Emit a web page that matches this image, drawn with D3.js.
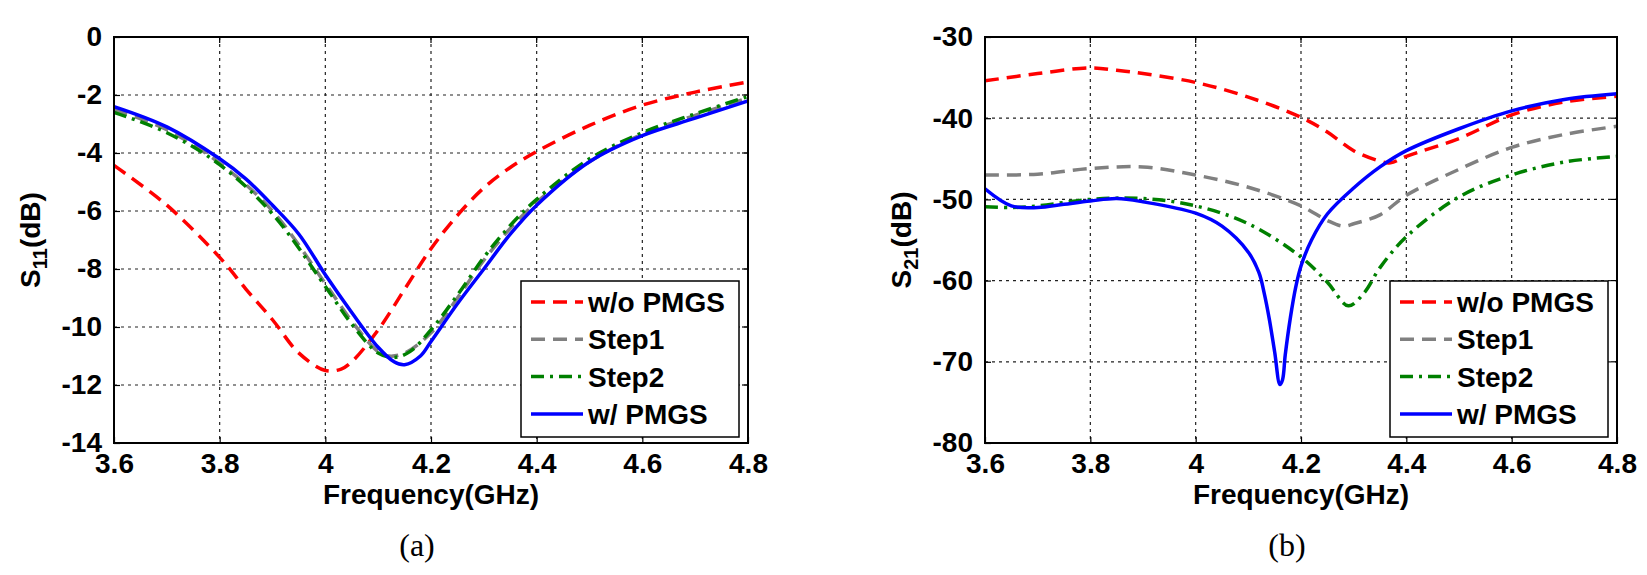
<!DOCTYPE html>
<html>
<head>
<meta charset="utf-8">
<script src="https://cdn.jsdelivr.net/npm/d3@7"></script>
<style>
  body { margin: 0; background: #fff; }
  svg text { font-family: "Liberation Sans", Arial, sans-serif; font-weight: bold; fill: #000; }
</style>
</head>
<body>
<script>
// ---- data ----
var seriesNames = ["w/o PMGS", "Step1", "Step2", "w/ PMGS"];
var freqTicks = [3.6, 3.8, 4, 4.2, 4.4, 4.6, 4.8];
var s11Ticks = [0, -2, -4, -6, -8, -10, -12, -14];
var s21Ticks = [-30, -40, -50, -60, -70, -80];

// (a) S11
var s11RedF  = [3.6, 3.7, 3.8, 3.85, 3.9, 3.95, 4.0, 4.03, 4.05, 4.1, 4.15, 4.2, 4.25, 4.3, 4.35, 4.4, 4.5, 4.6, 4.7, 4.8];
var s11RedDb = [-4.43, -5.8, -7.6, -8.7, -9.75, -10.9, -11.5, -11.45, -11.2, -10.1, -8.7, -7.3, -6.15, -5.2, -4.5, -3.95, -3.05, -2.35, -1.9, -1.55];
var s11GrayF  = [3.6, 3.7, 3.8, 3.9, 4.0, 4.05, 4.1, 4.12, 4.15, 4.2, 4.25, 4.3, 4.35, 4.4, 4.5, 4.6, 4.7, 4.8];
var s11GrayDb = [-2.5, -3.2, -4.35, -6.0, -8.5, -9.8, -10.85, -11.0, -10.9, -10.2, -9.0, -7.7, -6.6, -5.7, -4.3, -3.35, -2.7, -2.1];
var s11GreenF  = [3.6, 3.7, 3.8, 3.9, 4.0, 4.05, 4.1, 4.13, 4.16, 4.2, 4.25, 4.3, 4.35, 4.4, 4.5, 4.6, 4.7, 4.8];
var s11GreenDb = [-2.6, -3.3, -4.4, -6.1, -8.6, -9.9, -10.9, -11.05, -10.85, -10.1, -8.9, -7.6, -6.5, -5.6, -4.2, -3.3, -2.65, -2.05];
var s11BlueF  = [3.6, 3.7, 3.8, 3.85, 3.9, 3.95, 4.0, 4.05, 4.1, 4.13, 4.15, 4.18, 4.2, 4.25, 4.3, 4.35, 4.4, 4.5, 4.6, 4.7, 4.8];
var s11BlueDb = [-2.4, -3.1, -4.2, -4.9, -5.8, -6.8, -8.2, -9.5, -10.7, -11.2, -11.3, -11.0, -10.5, -9.2, -8.0, -6.8, -5.8, -4.3, -3.4, -2.8, -2.2];

// (b) S21
var s21RedF  = [3.6, 3.7, 3.8, 3.85, 3.9, 4.0, 4.1, 4.2, 4.25, 4.3, 4.35, 4.37, 4.4, 4.5, 4.6, 4.7, 4.8];
var s21RedDb = [-35.4, -34.5, -33.8, -34.1, -34.5, -35.6, -37.4, -39.9, -41.7, -44.0, -45.3, -45.5, -44.7, -42.5, -39.6, -38.0, -37.3];
var s21GrayF  = [3.6, 3.7, 3.8, 3.9, 4.0, 4.1, 4.2, 4.25, 4.28, 4.3, 4.35, 4.4, 4.5, 4.6, 4.7, 4.8];
var s21GrayDb = [-47.0, -46.9, -46.2, -46.0, -47.0, -48.5, -50.8, -52.6, -53.3, -53.0, -51.9, -49.5, -46.3, -43.6, -42.0, -41.0];
var s21GreenF  = [3.6, 3.65, 3.7, 3.8, 3.9, 4.0, 4.1, 4.2, 4.25, 4.29, 4.32, 4.35, 4.4, 4.5, 4.6, 4.7, 4.8];
var s21GreenDb = [-50.9, -51.0, -50.8, -50.0, -49.9, -50.8, -53.0, -57.1, -60.2, -63.1, -61.5, -58.4, -54.6, -49.7, -47.0, -45.4, -44.7];
var s21BlueF  = [3.6, 3.65, 3.7, 3.75, 3.8, 3.85, 3.9, 4.0, 4.05, 4.1, 4.12, 4.13, 4.14, 4.15, 4.16, 4.165, 4.17, 4.18, 4.19, 4.2, 4.22, 4.25, 4.3, 4.35, 4.4, 4.5, 4.6, 4.7, 4.8];
var s21BlueDb = [-48.7, -50.8, -51.0, -50.6, -50.2, -49.9, -50.3, -51.7, -53.3, -56.5, -59.0, -61.5, -64.8, -68.8, -72.8, -72.2, -69.2, -64.5, -60.8, -58.2, -55.0, -51.8, -48.6, -46.0, -44.0, -41.3, -39.1, -37.7, -37.0];

// ---- styles ----
var seriesColors = ["#ff0000", "#808080", "#008000", "#0000ff"];
var seriesDash = ["14,8", "14,8", "13,6,3,6", null];

var W = 1647, H = 575;
var svg = d3.select("body").append("svg")
    .attr("width", W)
    .attr("height", H);

function zip(f, v){
    return f.map(function(d, i){ return [d, v[i]]; });
}

function drawPanel(p){
    var x = d3.scaleLinear().domain([3.6, 4.8]).range([p.left, p.right]);
    var y = d3.scaleLinear().domain(p.yDomain).range([p.top, p.bottom]);

    var g = svg.append("g");

    // clip
    g.append("clipPath").attr("id", p.id + "clip")
        .append("rect")
        .attr("x", p.left).attr("y", p.top)
        .attr("width", p.right - p.left).attr("height", p.bottom - p.top);

    // grid
    g.selectAll(".vgrid").data(freqTicks.slice(1, -1)).enter().append("line")
        .attr("x1", function(d){ return x(d); })
        .attr("x2", function(d){ return x(d); })
        .attr("y1", p.top).attr("y2", p.bottom)
        .attr("stroke", "#222").attr("stroke-width", 1.2)
        .attr("stroke-dasharray", "3,4");
    g.selectAll(".hgrid").data(p.yTicks.slice(1, -1)).enter().append("line")
        .attr("y1", function(d){ return y(d); })
        .attr("y2", function(d){ return y(d); })
        .attr("x1", p.left).attr("x2", p.right)
        .attr("stroke", "#222").attr("stroke-width", 1.2)
        .attr("stroke-dasharray", "3,4");

    // curves
    var line = d3.line()
        .x(function(d){ return x(d[0]); })
        .y(function(d){ return y(d[1]); })
        .curve(d3.curveCatmullRom.alpha(0.5));

    p.series.forEach(function(s, i){
        g.append("path")
            .datum(s)
            .attr("clip-path", "url(#" + p.id + "clip)")
            .attr("d", line)
            .attr("fill", "none")
            .attr("stroke", seriesColors[i])
            .attr("stroke-width", 3.5)
            .attr("stroke-dasharray", seriesDash[i]);
    });

    // axes (plain hyphen minus like the original)
    var fmt = function(d){ return String(d); };
    var xAxis = d3.axisBottom(x).tickValues(freqTicks).tickSize(-6).tickPadding(12).tickFormat(fmt);
    var yAxis = d3.axisLeft(y).tickValues(p.yTicks).tickSize(-6).tickPadding(12).tickFormat(fmt);

    var gx = g.append("g").attr("transform", "translate(0," + p.bottom + ")").call(xAxis);
    var gy = g.append("g").attr("transform", "translate(" + p.left + ",0)").call(yAxis);
    [gx, gy].forEach(function(a){
        a.select(".domain").remove();
        a.selectAll("line").attr("stroke", "#000").attr("stroke-width", 1.2);
        a.selectAll("text").attr("font-size", 28).style("font-family", "'Liberation Sans', Arial, sans-serif")
            .style("font-weight", "bold").attr("fill", "#000");
    });
    gx.selectAll("text").attr("dy", "0.8em").attr("y", 8);

    // mirrored inside ticks top / right
    g.selectAll(".tt").data(freqTicks).enter().append("line")
        .attr("x1", function(d){ return x(d); }).attr("x2", function(d){ return x(d); })
        .attr("y1", p.top).attr("y2", p.top + 6)
        .attr("stroke", "#000").attr("stroke-width", 1.2);
    g.selectAll(".rt").data(p.yTicks).enter().append("line")
        .attr("y1", function(d){ return y(d); }).attr("y2", function(d){ return y(d); })
        .attr("x1", p.right).attr("x2", p.right - 6)
        .attr("stroke", "#000").attr("stroke-width", 1.2);

    // frame
    g.append("rect")
        .attr("x", p.left).attr("y", p.top)
        .attr("width", p.right - p.left).attr("height", p.bottom - p.top)
        .attr("fill", "none").attr("stroke", "#000").attr("stroke-width", 2);

    // axis labels
    g.append("text")
        .attr("x", (p.left + p.right) / 2).attr("y", 504)
        .attr("text-anchor", "middle").attr("font-size", 28)
        .text("Frequency(GHz)");

    var yl = g.append("text")
        .attr("transform", "translate(" + (p.left - 84) + "," + ((p.top + p.bottom) / 2) + ") rotate(-90)")
        .attr("text-anchor", "middle").attr("dy", "0.35em").attr("font-size", 28);
    yl.append("tspan").text("S");
    yl.append("tspan").attr("font-size", 20).attr("dy", 7).text(p.sub);
    yl.append("tspan").attr("dy", -7).text("(dB)");

    // caption
    g.append("text")
        .attr("x", p.capX).attr("y", 556)
        .attr("text-anchor", "middle")
        .attr("font-size", 32)
        .style("font-family", "'Liberation Serif', 'Times New Roman', serif")
        .style("font-weight", "normal")
        .text(p.caption);

    // legend
    var lx = p.right - 227, ly = p.bottom - 162, lw = 218, lh = 156;
    var leg = g.append("g").attr("transform", "translate(" + lx + "," + ly + ")");
    leg.append("rect").attr("width", lw).attr("height", lh)
        .attr("fill", "#fff").attr("stroke", "#000").attr("stroke-width", 1.5);
    seriesNames.forEach(function(n, i){
        var cy = 21 + i * 37.3;
        leg.append("line")
            .attr("x1", 10).attr("x2", 62).attr("y1", cy).attr("y2", cy)
            .attr("stroke", seriesColors[i]).attr("stroke-width", 3.5)
            .attr("stroke-dasharray", seriesDash[i]);
        leg.append("text")
            .attr("x", 67).attr("y", cy + 10)
            .attr("font-size", 28)
            .text(n);
    });
}

drawPanel({
    id: "a", left: 114, right: 748, top: 37, bottom: 443,
    yDomain: [0, -14], yTicks: s11Ticks, sub: "11", caption: "(a)", capX: 417,
    series: [zip(s11RedF, s11RedDb), zip(s11GrayF, s11GrayDb), zip(s11GreenF, s11GreenDb), zip(s11BlueF, s11BlueDb)]
});

drawPanel({
    id: "b", left: 985, right: 1617, top: 37, bottom: 443,
    yDomain: [-30, -80], yTicks: s21Ticks, sub: "21", caption: "(b)", capX: 1287,
    series: [zip(s21RedF, s21RedDb), zip(s21GrayF, s21GrayDb), zip(s21GreenF, s21GreenDb), zip(s21BlueF, s21BlueDb)]
});
</script>
</body>
</html>
